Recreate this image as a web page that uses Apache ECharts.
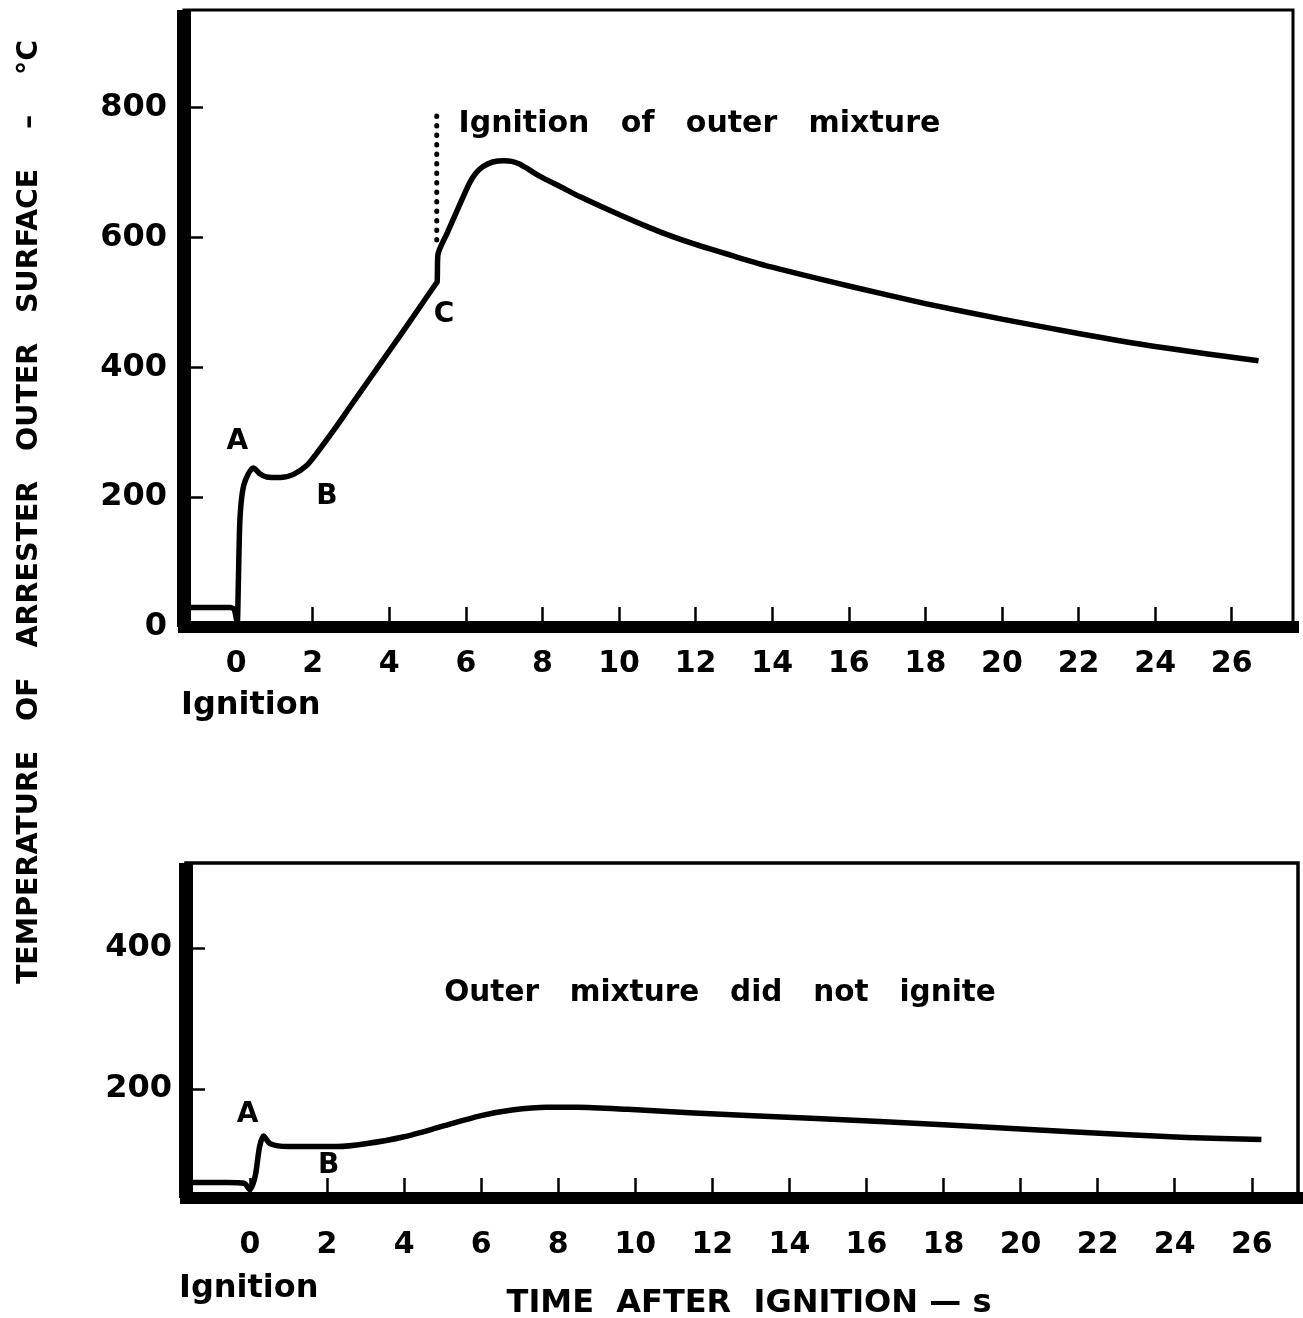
<!DOCTYPE html>
<html><head><meta charset="utf-8">
<script src="https://cdn.jsdelivr.net/npm/echarts@6/dist/echarts.min.js"></script>
<style>html,body{margin:0;padding:0;background:#fff}#c{width:1303px;height:1318px}</style>
</head><body><div id="c"></div>
<script>
// ---- data ----
const xTicks = [0, 2, 4, 6, 8, 10, 12, 14, 16, 18, 20, 22, 24, 26];
const topYTicks = [0, 200, 400, 600, 800];
const botYTicks = [200, 400];

// upper panel: outer mixture ignited
const topTime = [-1.36, -0.6, -0.15, -0.05, 0.0, 0.03, 0.06, 0.09, 0.13, 0.2, 0.32, 0.45, 0.62, 0.8, 1.15, 1.5, 1.85, 2.1, 2.55, 3.0, 3.5, 4.0, 4.5, 5.0, 5.2, 5.25, 5.27, 5.5, 5.8, 6.1, 6.25, 6.45, 6.7, 7.0, 7.2, 7.4, 7.6, 7.9, 8.5, 9.0, 10.0, 11.0, 12.0, 13.0, 14.0, 16.0, 18.0, 20.0, 22.0, 24.0, 26.7];
const topTemp = [30, 30, 30, 27, 15, 5, 70, 150, 190, 218, 236, 245, 236, 231, 230, 235, 249, 267, 303, 341, 383, 425, 467, 510, 527, 531, 573, 605, 645, 684, 698, 709, 716, 718, 717, 713, 706, 695, 677, 662, 635, 610, 589, 571, 554, 525, 498, 474, 452, 432, 410];

// lower panel: outer mixture did not ignite
const botTime = [-1.66, -0.6, -0.15, 0.0, 0.08, 0.15, 0.25, 0.35, 0.53, 0.98, 2.27, 3.0, 4.0, 5.0, 6.0, 6.8, 7.7, 8.5, 9.8, 11.4, 14.7, 18.0, 21.3, 24.3, 26.25];
const botTemp = [67, 67, 66, 57, 65, 80, 118, 133, 122, 118, 118, 122, 132, 147, 162, 170, 174, 174, 171, 166, 158, 149, 139, 131, 128];

// ignition of outer mixture (dotted marker): time, temperature range
const outerIgnitionTime = 5.24;
const outerIgnitionTemps = [596, 800];

// point labels [text, time, temperature]
const topPointLabels = [['A', 0.03, 285], ['B', 2.37, 200], ['C', 5.43, 481]];
const botPointLabels = [['A', -0.06, 163], ['B', 2.04, 91]];

// notes [text, time, temperature]
const topNote = ['Ignition   of   outer   mixture', 12.1, 774];
const botNote = ['Outer   mixture   did   not   ignite', 12.2, 336];

const yTitle = 'TEMPERATURE   OF   ARRESTER   OUTER   SURFACE    \u2013    \u00B0C';
const xTitle = 'TIME  AFTER  IGNITION \u2014 s';
const ignitionWord = 'Ignition';

// ---- chart ----
const FONT = 'DejaVu Sans';
const chart = echarts.init(document.getElementById('c'), null, {renderer: 'canvas'});

function xAx(grid, min, max, margin) {
  return {
    gridIndex: grid, type: 'value', min: min, max: max,
    axisLine: {onZero: false, lineStyle: {color: '#000', width: 12, cap: 'square'}},
    axisTick: {inside: true, length: 20, customValues: xTicks, lineStyle: {color: '#000', width: 2.5}},
    axisLabel: {customValues: xTicks, margin: margin, fontSize: 30, fontWeight: 'bold', color: '#000', fontFamily: FONT},
    splitLine: {show: false}
  };
}
function yAx(grid, min, max, ticks, margin) {
  return {
    gridIndex: grid, type: 'value', min: min, max: max,
    axisLine: {onZero: false, lineStyle: {color: '#000', width: 14, cap: 'butt'}},
    axisTick: {inside: true, length: 19, customValues: ticks, lineStyle: {color: '#000', width: 2.5}},
    axisLabel: {customValues: ticks, margin: margin, fontSize: 32, fontWeight: 'bold', color: '#000', fontFamily: FONT},
    splitLine: {show: false}
  };
}
function labelSeries(xi, yi, arr, size) {
  return {
    type: 'scatter', xAxisIndex: xi, yAxisIndex: yi, symbolSize: 1,
    itemStyle: {color: 'rgba(0,0,0,0)', opacity: 1}, silent: true, z: 5,
    data: arr.map(d => ({value: [d[1], d[2]], name: d[0]})),
    label: {show: true, position: 'inside', formatter: p => p.name, fontSize: size, fontWeight: 'bold',
            color: '#000', opacity: 1, fontFamily: FONT, textBorderWidth: 0}
  };
}

const option = {
  animation: false,
  backgroundColor: '#fff',
  grid: [
    {left: 184, top: 10, right: 10, height: 617, show: true, borderColor: '#000', borderWidth: 3},
    {left: 186, top: 863, right: 5, height: 335, show: true, borderColor: '#000', borderWidth: 3.5}
  ],
  xAxis: [xAx(0, -1.36, 27.6, 22), xAx(1, -1.66, 27.2, 32)],
  yAxis: [yAx(0, 0, 950, topYTicks, 17), yAx(1, 45, 521, botYTicks, 14)],
  series: [
    {type: 'line', xAxisIndex: 0, yAxisIndex: 0, showSymbol: false, smooth: 0.25,
     data: topTime.map((t, i) => [t, topTemp[i]]),
     lineStyle: {color: '#000', width: 5.5, join: 'round'}, z: 3},
    {type: 'line', xAxisIndex: 1, yAxisIndex: 1, showSymbol: false, smooth: 0.25,
     data: botTime.map((t, i) => [t, botTemp[i]]),
     lineStyle: {color: '#000', width: 5.5, join: 'round'}, z: 3},
    {type: 'line', xAxisIndex: 0, yAxisIndex: 0, showSymbol: false,
     data: outerIgnitionTemps.map(v => [outerIgnitionTime, v]),
     lineStyle: {color: '#000', width: 5, type: [0.5, 9], cap: 'round'}, z: 3},
    labelSeries(0, 0, topPointLabels, 28),
    labelSeries(1, 1, botPointLabels, 28),
    labelSeries(0, 0, [topNote], 30),
    labelSeries(1, 1, [botNote], 29.5)
  ],
  graphic: [
    {type: 'text', x: 30, y: 512, rotation: Math.PI / 2,
     style: {text: yTitle, font: 'bold 28.5px "DejaVu Sans"', fill: '#000', align: 'center', verticalAlign: 'middle'}},
    {type: 'text', x: 749, y: 1304,
     style: {text: xTitle, font: 'bold 32px "DejaVu Sans"', fill: '#000', align: 'center', verticalAlign: 'middle'}},
    {type: 'text', x: 181, y: 706,
     style: {text: ignitionWord, font: 'bold 32px "DejaVu Sans"', fill: '#000', align: 'left', verticalAlign: 'middle'}},
    {type: 'text', x: 179, y: 1289,
     style: {text: ignitionWord, font: 'bold 32px "DejaVu Sans"', fill: '#000', align: 'left', verticalAlign: 'middle'}}
  ]
};
chart.setOption(option);
</script></body></html>
